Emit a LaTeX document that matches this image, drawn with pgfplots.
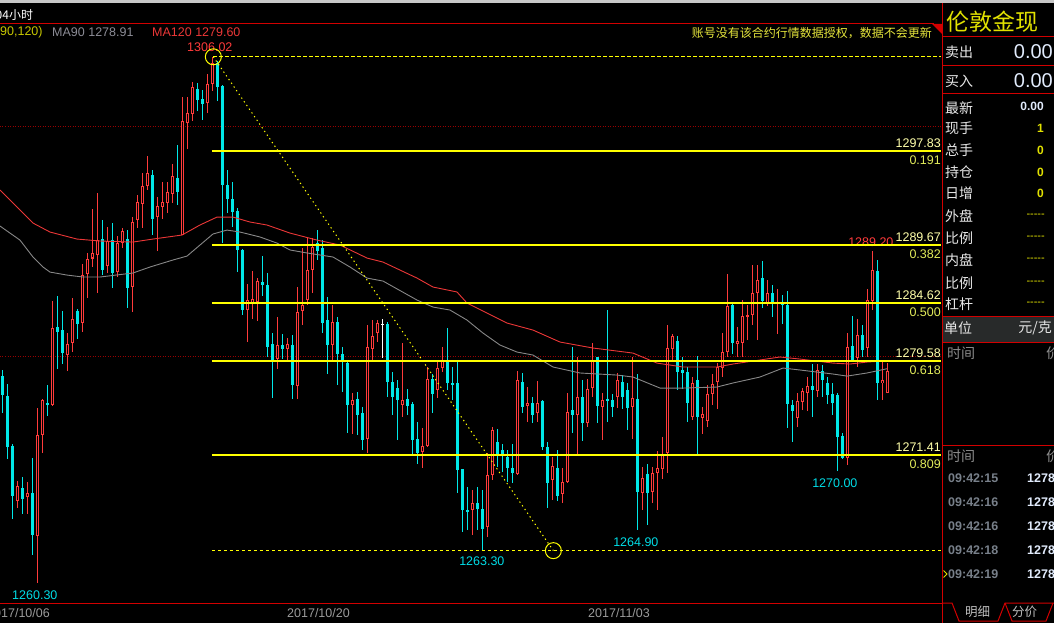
\documentclass[border=0pt]{standalone}
\usepackage{fontspec}
\setmainfont{Liberation Sans}
\newfontfamily\cjk{Noto Sans CJK SC}
\usepackage{pgfplots}
\usepackage{pgfplotstable}
\pgfplotsset{compat=1.18}

\definecolor{cred}{RGB}{255,59,59}
\definecolor{ccyan}{RGB}{0,232,232}
\definecolor{ma120}{RGB}{235,55,55}
\definecolor{ma90}{RGB}{135,135,135}
\definecolor{fib}{RGB}{255,255,0}
\definecolor{fibval}{RGB}{255,255,170}
\definecolor{fibratio}{RGB}{225,235,90}
\definecolor{gridred}{RGB}{150,0,0}
\definecolor{panelred}{RGB}{210,0,0}
\definecolor{lblcyan}{RGB}{0,220,230}
\definecolor{dategray}{RGB}{155,155,155}
\definecolor{legyellow}{RGB}{200,200,0}
\definecolor{leggray}{RGB}{140,140,150}
\definecolor{notice}{RGB}{230,230,60}
\definecolor{rtitle}{RGB}{225,225,0}
\definecolor{valblue}{RGB}{225,235,252}
\definecolor{rowwhite}{RGB}{232,232,232}
\definecolor{timegray}{RGB}{120,128,138}
\definecolor{band}{RGB}{40,42,42}

\pgfplotstableread{
k O H L C
3 1267.44 1269.15 1266.83 1268.72
5 1267.73 1269.06 1266.31 1268.14
7 1264.40 1275.52 1260.30 1273.15
8 1273.15 1276.33 1271.61 1276.19
10 1275.75 1284.80 1275.70 1282.42
13 1280.16 1281.99 1278.74 1281.11
14 1281.11 1285.09 1280.39 1283.20
16 1282.86 1288.01 1282.07 1287.11
17 1287.11 1288.94 1285.09 1288.45
18 1288.50 1292.79 1287.78 1288.94
19 1288.79 1294.15 1285.46 1290.10
21 1287.87 1291.20 1287.20 1290.04
23 1287.29 1290.45 1286.91 1289.81
24 1289.81 1291.11 1289.37 1290.88
26 1285.98 1292.13 1283.87 1291.63
27 1291.84 1294.01 1291.11 1293.37
28 1293.28 1295.89 1291.11 1294.79
29 1294.79 1297.40 1294.44 1295.89
31 1292.07 1293.86 1289.17 1293.08
32 1293.00 1295.17 1291.92 1293.37
33 1293.28 1295.17 1292.42 1294.24
34 1294.15 1296.70 1293.28 1295.66
36 1290.53 1302.56 1290.53 1300.44
37 1300.32 1302.56 1298.01 1301.11
38 1301.05 1303.80 1300.44 1303.37
41 1302.06 1304.58 1301.19 1303.71
42 1303.63 1306.02 1303.08 1305.51
49 1284.01 1286.27 1281.26 1284.88
50 1284.74 1287.40 1283.20 1284.94
51 1284.68 1286.77 1283.09 1286.53
55 1279.75 1283.43 1278.94 1280.97
57 1280.59 1281.55 1279.58 1281.06
59 1277.43 1286.04 1276.25 1283.87
60 1283.95 1289.46 1282.71 1284.45
61 1284.88 1290.29 1284.45 1287.49
62 1287.49 1290.29 1285.50 1289.51
66 1280.97 1284.44 1279.52 1282.99
70 1275.75 1276.77 1273.29 1276.19
73 1272.80 1282.70 1271.61 1280.82
74 1280.68 1283.14 1279.66 1281.75
75 1281.98 1283.14 1281.26 1282.85
80 1275.75 1281.11 1274.74 1276.24
84 1271.70 1273.81 1270.25 1272.19
85 1272.19 1279.08 1272.13 1278.01
87 1277.11 1279.52 1276.33 1278.94
88 1278.94 1280.82 1278.65 1279.60
94 1266.63 1268.37 1264.45 1267.27
97 1265.18 1271.55 1264.31 1269.67
98 1269.67 1273.87 1269.23 1273.58
103 1269.81 1278.74 1269.67 1277.93
105 1275.69 1277.35 1274.30 1275.98
107 1275.03 1277.87 1274.30 1275.98
110 1269.23 1271.20 1267.50 1270.48
112 1268.02 1270.25 1267.27 1269.09
113 1269.09 1276.85 1268.95 1275.12
115 1274.88 1279.95 1271.32 1276.48
117 1274.22 1278.07 1273.87 1277.20
118 1277.20 1281.17 1276.48 1279.66
120 1275.61 1276.77 1272.71 1276.19
123 1276.48 1278.50 1275.46 1277.93
126 1275.61 1279.95 1272.77 1276.42
128 1268.13 1270.39 1266.63 1269.41
130 1268.22 1270.39 1267.23 1269.85
131 1269.85 1271.76 1266.63 1270.28
132 1270.19 1273.00 1269.38 1271.50
133 1271.58 1282.70 1269.85 1280.68
134 1280.68 1281.98 1279.66 1281.75
138 1274.74 1278.22 1274.45 1277.64
140 1274.68 1275.61 1273.29 1274.97
141 1274.36 1277.49 1273.87 1276.71
142 1276.77 1278.50 1275.75 1277.64
143 1277.78 1279.37 1275.38 1279.08
144 1278.94 1282.04 1278.22 1280.39
145 1280.39 1287.14 1279.95 1284.36
147 1281.11 1282.56 1279.95 1281.32
148 1281.17 1284.88 1279.95 1283.49
149 1283.43 1284.44 1281.46 1283.57
150 1283.57 1287.92 1282.70 1285.46
151 1285.46 1287.92 1281.46 1286.67
153 1284.59 1286.62 1284.36 1285.46
155 1284.59 1285.89 1281.98 1284.73
159 1274.59 1276.77 1273.87 1276.10
160 1276.04 1277.20 1275.32 1276.97
161 1276.83 1278.22 1275.26 1277.43
163 1277.00 1279.31 1276.48 1278.79
169 1271.20 1282.07 1270.60 1280.82
171 1279.81 1283.20 1279.08 1281.84
173 1280.68 1285.89 1279.95 1284.88
174 1284.82 1289.20 1284.07 1287.49
176 1277.64 1279.52 1276.19 1277.98
177 1276.83 1279.43 1276.77 1278.71
}\upc

\pgfplotstableread{
k O H L C
0 1278.28 1278.80 1275.09 1276.62
1 1276.54 1277.58 1271.06 1272.13
2 1272.22 1272.37 1265.85 1267.85
4 1268.57 1269.50 1266.25 1267.59
6 1268.14 1271.15 1262.72 1264.46
9 1275.93 1277.49 1274.83 1275.75
11 1282.57 1285.23 1278.88 1282.13
12 1282.28 1283.96 1279.32 1280.30
15 1283.93 1284.10 1281.46 1282.80
20 1290.16 1291.84 1287.06 1287.49
22 1290.10 1291.55 1285.90 1287.20
25 1290.16 1290.97 1284.16 1285.90
30 1295.75 1296.18 1290.53 1291.98
35 1295.52 1298.35 1293.14 1294.24
39 1303.19 1303.71 1301.34 1302.27
40 1302.32 1303.13 1300.53 1301.92
43 1305.51 1305.68 1302.18 1303.42
44 1303.48 1303.57 1289.87 1294.88
45 1294.88 1296.18 1292.42 1293.66
46 1293.66 1295.17 1291.27 1292.55
47 1292.62 1292.91 1287.35 1289.23
48 1289.23 1289.32 1283.58 1284.01
52 1286.42 1288.71 1285.23 1286.19
53 1286.19 1287.20 1279.96 1280.82
54 1281.06 1282.00 1276.33 1279.72
56 1280.97 1281.93 1279.75 1280.62
58 1280.97 1281.84 1276.28 1277.49
63 1289.83 1290.96 1288.36 1289.17
64 1289.40 1290.09 1281.98 1282.88
65 1283.14 1285.17 1278.50 1280.97
67 1282.99 1283.43 1277.49 1280.24
68 1280.24 1280.82 1276.91 1279.66
69 1279.37 1279.52 1273.29 1275.75
71 1276.27 1276.91 1273.15 1274.88
72 1275.09 1275.61 1271.90 1272.71
77 1282.85 1283.00 1276.48 1277.78
78 1277.78 1278.65 1274.88 1276.48
79 1277.20 1277.93 1272.71 1276.19
81 1276.33 1277.20 1274.88 1275.69
82 1275.90 1276.04 1271.41 1272.71
83 1272.77 1274.30 1270.68 1271.55
86 1278.01 1278.45 1275.09 1276.71
89 1279.52 1282.50 1277.06 1277.64
90 1277.64 1279.08 1276.19 1277.49
91 1277.64 1279.52 1268.08 1270.10
92 1270.16 1270.16 1264.75 1266.63
93 1266.69 1268.66 1264.89 1266.48
95 1267.27 1268.66 1264.89 1266.77
96 1266.69 1268.37 1263.10 1265.03
99 1272.57 1273.72 1270.34 1271.55
100 1271.84 1272.42 1269.96 1271.55
101 1271.26 1271.84 1269.09 1270.25
102 1270.25 1272.36 1268.95 1269.87
104 1277.78 1278.50 1275.09 1275.55
106 1275.96 1276.48 1274.22 1274.88
108 1276.10 1276.24 1271.84 1272.13
109 1272.13 1272.57 1266.77 1269.00
111 1270.25 1271.84 1267.41 1267.85
114 1275.32 1280.82 1273.29 1274.88
116 1276.48 1277.93 1272.62 1274.22
119 1279.90 1279.95 1274.22 1275.69
121 1276.25 1284.07 1274.30 1276.13
122 1276.19 1276.77 1274.74 1275.61
124 1277.78 1278.36 1275.38 1276.48
125 1277.06 1277.64 1273.58 1275.55
127 1276.33 1278.45 1264.90 1268.22
129 1269.76 1270.63 1265.32 1268.13
135 1281.32 1281.75 1277.06 1278.65
136 1278.79 1279.95 1277.20 1278.56
137 1278.65 1279.08 1274.30 1275.96
139 1277.93 1280.01 1271.55 1274.74
146 1284.50 1284.73 1280.24 1281.17
152 1286.82 1288.27 1284.15 1284.79
154 1285.46 1286.24 1283.43 1284.59
156 1284.73 1285.31 1282.85 1284.44
157 1284.44 1285.66 1273.81 1275.81
158 1275.81 1276.19 1272.57 1275.23
162 1277.43 1279.31 1274.74 1277.06
164 1278.74 1279.23 1276.48 1277.93
165 1277.64 1278.16 1275.81 1276.62
166 1276.71 1277.64 1274.88 1275.96
167 1276.65 1276.77 1270.00 1273.00
168 1273.06 1273.29 1271.03 1271.12
170 1280.88 1283.49 1279.66 1279.72
172 1281.90 1282.70 1279.95 1280.59
175 1287.43 1288.41 1276.19 1277.64
}\downc

\pgfplotstableread{
k O H L C
76 1282.79 1283.20 1279.81 1282.79
}\dojic

\pgfplotsset{
  ebar/.style 2 args={draw=none, mark=none, forget plot,
    error bars/.cd, y dir=both, y explicit, error mark=none,
    error bar style={draw=#1, line width=#2, line cap=butt}},
}

\begin{document}
\begin{tikzpicture}
\useasboundingbox (0,0) rectangle (1054pt,-623pt);
\fill[black] (0,0) rectangle (1054pt,-623pt);
\clip (0,0) rectangle (1054pt,-623pt);

\begin{axis}[at={(0pt,-603pt)}, anchor=south west,
  width=941pt, height=579pt, scale only axis,
  xmin=-0.466, xmax=187.73, ymin=1258.55, ymax=1308.87,
  hide axis, clip=false]

% dotted grid lines
\addplot[gridred, line width=0.8pt, dash pattern=on 1pt off 1.5pt, forget plot] coordinates {(-0.466,1300) (187.73,1300)};
\addplot[gridred, line width=0.8pt, dash pattern=on 1pt off 1.5pt, forget plot] coordinates {(-0.466,1280) (187.73,1280)};

% wicks
\addplot[ebar={cred}{1pt}] table[x=k, y expr={(\thisrow{H}+\thisrow{L})/2}, y error expr={(\thisrow{H}-\thisrow{L})/2}] {\upc};
\addplot[ebar={ccyan}{1pt}] table[x=k, y expr={(\thisrow{H}+\thisrow{L})/2}, y error expr={(\thisrow{H}-\thisrow{L})/2}] {\downc};
\addplot[ebar={white}{1pt}] table[x=k, y expr={(\thisrow{H}+\thisrow{L})/2}, y error expr={(\thisrow{H}-\thisrow{L})/2}] {\dojic};
% bodies
\addplot[ebar={ccyan}{3.2pt}] table[x=k, y expr={(\thisrow{O}+\thisrow{C})/2}, y error expr={max(abs(\thisrow{O}-\thisrow{C})/2,0.045)}] {\downc};
\addplot[ebar={cred}{3.2pt}] table[x=k, y expr={(\thisrow{O}+\thisrow{C})/2}, y error expr={max(abs(\thisrow{O}-\thisrow{C})/2,0.045)}] {\upc};
\addplot[ebar={black}{1.2pt}] table[x=k, y expr={(\thisrow{O}+\thisrow{C})/2}, y error expr={max(abs(\thisrow{C}-\thisrow{O})/2-0.087,0)}] {\upc};
\addplot[ebar={white}{3.2pt}] table[x=k, y expr={(\thisrow{O}+\thisrow{C})/2}, y error expr={0.045}] {\dojic};

% moving averages
\addplot[ma90, line width=0.9pt, forget plot] coordinates {
(-0.47,1291.31)(3.53,1290.09)(6.13,1288.62)(8.13,1287.75)(9.53,1287.31)(12.93,1287.05)(16.13,1286.88)(19.53,1286.88)
(26.13,1287.23)(29.53,1287.75)(34.13,1288.36)(36.93,1288.70)(39.53,1289.66)(42.13,1290.62)(44.93,1290.96)(47.53,1290.79)
(51.53,1290.36)(54.93,1289.83)(57.53,1289.23)(60.93,1288.97)(66.13,1288.62)(69.53,1287.75)(72.93,1286.79)(76.13,1286.53)
(82.93,1284.88)(86.13,1284.27)(89.53,1284.01)(92.93,1283.14)(96.13,1282.01)(99.53,1280.97)(102.93,1280.36)(106.13,1280.10)
(110.13,1279.06)(115.53,1278.54)(122.93,1278.36)(126.13,1278.19)(131.53,1277.23)(136.13,1277.23)(142.93,1277.32)
(146.13,1277.67)(151.53,1278.19)(156.13,1278.97)(159.53,1278.80)(166.13,1278.45)(168.93,1278.27)(172.93,1278.54)(176.93,1278.91)};
\addplot[ma120, line width=0.9pt, forget plot] coordinates {
(-0.47,1294.44)(6.13,1291.57)(9.53,1290.79)(14.93,1290.18)(19.53,1290.01)(26.13,1289.92)(30.13,1290.18)(35.93,1290.53)
(39.53,1291.40)(42.93,1292.09)(46.13,1292.09)(49.53,1291.66)(52.93,1291.40)(57.53,1290.70)(62.93,1290.09)(67.53,1289.66)
(72.93,1288.53)(76.13,1288.18)(82.93,1286.79)(86.13,1286.01)(90.93,1285.58)(92.93,1284.62)(96.93,1283.75)(100.93,1282.88)
(106.13,1282.27)(111.53,1281.23)(118.13,1280.71)(126.13,1280.27)(130.93,1279.40)(136.13,1279.06)(142.93,1279.06)
(146.13,1279.32)(151.53,1279.67)(155.53,1279.93)(159.53,1279.75)(166.13,1279.40)(169.53,1279.32)(172.93,1279.49)(176.93,1279.60)};

% label behind fib line
\node[text=cred, font=\fontsize{12.5}{14}\selectfont, inner sep=0] at (axis cs:173.7,1289.92) {1289.20};

% fibonacci lines
\addplot[fib, line width=2pt, forget plot] coordinates {(41.93,1297.83) (187.73,1297.83)};
\addplot[fib, line width=2pt, forget plot] coordinates {(41.93,1289.67) (187.73,1289.67)};
\addplot[fib, line width=2pt, forget plot] coordinates {(41.93,1284.62) (187.73,1284.62)};
\addplot[fib, line width=2pt, forget plot] coordinates {(41.93,1279.58) (187.73,1279.58)};
\addplot[fib, line width=2pt, forget plot] coordinates {(41.93,1271.41) (187.73,1271.41)};
% dashed extremes
\addplot[fib, line width=1pt, dash pattern=on 3.5pt off 2.5pt, forget plot] coordinates {(42.2,1306.02) (187.73,1306.02)};
\addplot[fib, line width=1pt, dash pattern=on 3.5pt off 2.5pt, forget plot] coordinates {(41.93,1263.10) (187.73,1263.10)};
% diagonal
\addplot[fib, line width=1pt, dash pattern=on 1.3pt off 3.2pt, forget plot] coordinates {(42.2,1306.02) (110.2,1263.10)};
% circles
\addplot[fib, only marks, mark=o, mark size=8pt, mark options={line width=1pt}, forget plot] coordinates {(42.2,1306.02) (110.2,1263.10)};

% fib labels
\foreach \v/\r in {1297.83/0.191, 1289.67/0.382, 1284.62/0.500, 1279.58/0.618, 1271.41/0.809}{
  \edef\tmp{\noexpand\node[anchor=east, text=fibval, font=\noexpand\fontsize{12.5}{14}\noexpand\selectfont, inner sep=0] at (axis cs:187.73,\v) [yshift=7.5pt] {\v};
  \noexpand\node[anchor=east, text=fibratio, font=\noexpand\fontsize{12.5}{14}\noexpand\selectfont, inner sep=0] at (axis cs:187.73,\v) [yshift=-9pt] {\r};}
  \tmp
}

% extreme labels
\node[text=cred, font=\fontsize{12.5}{14}\selectfont, inner sep=0] at (axis cs:41.5,1306.87) {1306.02};
\node[text=lblcyan, font=\fontsize{12.5}{14}\selectfont, inner sep=0] at (axis cs:95.9,1262.20) {1263.30};
\node[text=lblcyan, font=\fontsize{12.5}{14}\selectfont, inner sep=0] at (axis cs:126.7,1263.85) {1264.90};
\node[text=lblcyan, font=\fontsize{12.5}{14}\selectfont, inner sep=0] at (axis cs:166.5,1268.98) {1270.00};
\node[text=lblcyan, font=\fontsize{12.5}{14}\selectfont, inner sep=0] at (axis cs:6.5,1259.24) {1260.30};
\end{axis}

\begin{scope}[x=1pt,y=-1pt]
% frame
\fill[black!22] (0,0) rectangle (1054,3.5);
\draw[panelred, line width=1pt] (0,24) -- (934,24);
\fill[panelred] (932,24) -- (942,24) -- (942,34) -- cycle;
\draw[panelred, line width=1pt] (0,603) -- (942,603);
\fill[band] (942.5,316.5) rectangle (1054,341.5);
\draw[panelred, line width=1pt] (942,3.5) -- (942,623);
\foreach \yy in {37,66,94,316,342,445}{\draw[panelred, line width=1pt] (942,\yy) -- (1054,\yy);}
% tabs
\draw[panelred, line width=1pt] (942,603) -- (952,603) -- (959,621) -- (998,621) -- (1005,603) -- (1054,603);
\draw[panelred, line width=1pt] (1005,603) -- (1012,621) -- (1046,621) -- (1053,603);
\node[anchor=west, inner sep=0, text=black!25, font=\cjk\fontsize{12.5}{13}\selectfont] at (965,612) {明细};
\node[anchor=west, inner sep=0, text=black!25, font=\cjk\fontsize{12.5}{13}\selectfont] at (1012,612) {分价};

% header texts
\node[anchor=west, inner sep=0, text=white, font=\cjk\fontsize{12}{12}\selectfont] at (-4.5,15) {04小时};
\node[anchor=west, inner sep=0, text=legyellow, font=\fontsize{12.5}{14}\selectfont] at (0,32.5) {90,120)};
\node[anchor=west, inner sep=0, text=leggray, font=\fontsize{12.5}{14}\selectfont] at (52,32.5) {MA90 1278.91};
\node[anchor=west, inner sep=0, text=ma120, font=\fontsize{12.5}{14}\selectfont] at (152,32.5) {MA120 1279.60};
\node[anchor=east, inner sep=0, text=notice, font=\cjk\fontsize{12}{12}\selectfont] at (932,33) {账号没有该合约行情数据授权，数据不会更新};

% date labels
\node[anchor=east, inner sep=0, text=dategray, font=\fontsize{12.5}{14}\selectfont] at (50,613) {2017/10/06};
\node[anchor=west, inner sep=0, text=dategray, font=\fontsize{12.5}{14}\selectfont] at (287,613) {2017/10/20};
\node[anchor=west, inner sep=0, text=dategray, font=\fontsize{12.5}{14}\selectfont] at (588,613) {2017/11/03};

% right panel
\node[anchor=west, inner sep=0, text=rtitle, font=\cjk\fontsize{23}{23}\selectfont] at (946,22) {伦敦金现};
\node[anchor=west, inner sep=0, text=rowwhite, font=\cjk\fontsize{14}{14}\selectfont] at (945,52) {卖出};
\node[anchor=east, inner sep=0, text=valblue, font=\fontsize{20}{20}\selectfont] at (1053,52) {0.00};
\node[anchor=west, inner sep=0, text=rowwhite, font=\cjk\fontsize{14}{14}\selectfont] at (945,81) {买入};
\node[anchor=east, inner sep=0, text=valblue, font=\fontsize{20}{20}\selectfont] at (1053,81) {0.00};
\foreach \yy/\lab in {108/最新, 128/现手, 150/总手, 172/持仓, 193/日增, 216/外盘, 238/比例, 260/内盘, 283/比例, 304/杠杆}{
  \node[anchor=west, inner sep=0, text=rowwhite, font=\cjk\fontsize{14}{14}\selectfont] at (945,\yy) {\lab};}
\node[anchor=east, inner sep=0, text=valblue, font=\bfseries\fontsize{12}{12}\selectfont] at (1044,106) {0.00};
\foreach \yy/\val in {128/1, 150/0, 172/0, 193/0}{
  \node[anchor=east, inner sep=0, text=rtitle, font=\bfseries\fontsize{12}{12}\selectfont] at (1044,\yy) {\val};}
\foreach \yy in {216,238,260,283,304}{
  \node[anchor=east, inner sep=0, text=rtitle, font=\fontsize{11}{11}\selectfont] at (1045,\yy) {{-}{-}{-}{-}{-}};}
\node[anchor=west, inner sep=0, text=rowwhite, font=\cjk\fontsize{14}{14}\selectfont] at (944,328) {单位};
\node[anchor=east, inner sep=0, text=rowwhite, font=\cjk\fontsize{14}{14}\selectfont] at (1052,328) {元/克};
\node[anchor=west, inner sep=0, text=black!45, font=\cjk\fontsize{14}{14}\selectfont] at (947,353) {时间};
\node[anchor=west, inner sep=0, text=black!45, font=\cjk\fontsize{14}{14}\selectfont] at (1046,353) {价};
\node[anchor=west, inner sep=0, text=black!45, font=\cjk\fontsize{14}{14}\selectfont] at (947,456) {时间};
\node[anchor=west, inner sep=0, text=black!45, font=\cjk\fontsize{14}{14}\selectfont] at (1046,456) {价};
\foreach \yy/\tt in {478/09:42:15, 502/09:42:16, 526/09:42:16, 550/09:42:18, 574/09:42:19}{
  \node[anchor=west, inner sep=0, text=timegray, font=\bfseries\fontsize{12.5}{13}\selectfont] at (948,\yy) {\tt};
  \node[anchor=west, inner sep=0, text=valblue, font=\bfseries\fontsize{12.5}{13}\selectfont] at (1027,\yy) {1278};}
\draw[rtitle, line width=1pt] (943.5,570.5) -- (947,574) -- (943.5,577.5);
\end{scope}
\end{tikzpicture}
\end{document}
